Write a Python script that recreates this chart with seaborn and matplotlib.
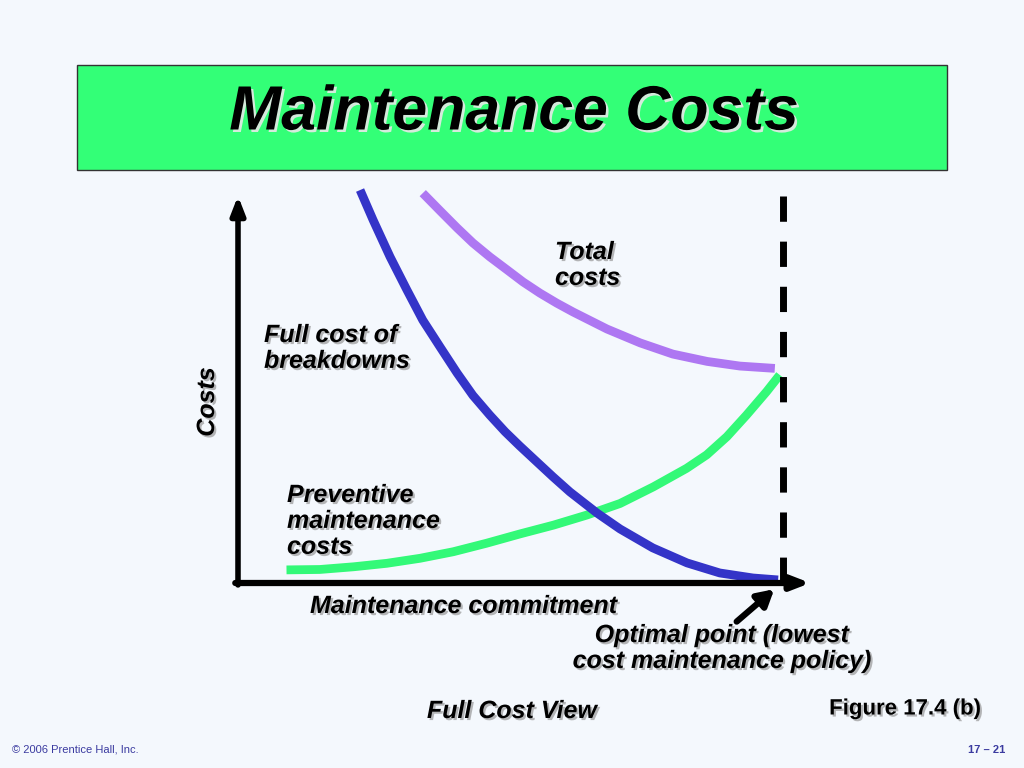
import numpy as np
import pandas as pd
import seaborn as sns
import matplotlib.pyplot as plt
import matplotlib.patches as mpatches
import matplotlib.patheffects as pe

# values (commitment 0..100, cost 0..100)
breakdown_x = [22.4, 24.8, 27.9, 31.0, 33.9, 37.1, 40.2, 43.1, 46.2, 49.0, 51.7,
               54.9, 57.8, 60.9, 65.9, 70.1, 76.1, 82.4, 88.4, 94.5, 99.1]
breakdown_y = [101.8, 94.0, 84.5, 75.9, 68.1, 61.1, 54.4, 48.6, 43.5, 39.2, 35.5,
               31.3, 27.5, 23.6, 18.1, 14.0, 9.1, 5.2, 2.6, 1.3, 0.8]

total_x = [33.9, 37.1, 40.2, 43.1, 46.2, 49.4, 52.3, 55.4, 58.5, 61.5, 67.7,
           73.8, 79.8, 86.1, 92.1, 98.5]
total_y = [101.0, 96.4, 92.0, 88.1, 84.5, 81.1, 78.0, 75.1, 72.5, 70.2, 65.8,
           62.2, 59.3, 57.4, 56.2, 55.6]

preventive_x = [8.9, 15.0, 21.2, 27.3, 33.4, 39.5, 45.6, 51.7, 57.9, 64.0, 70.1,
                76.2, 82.3, 86.0, 89.7, 93.3, 97.0, 99.4]
preventive_y = [3.4, 3.5, 4.2, 5.1, 6.4, 8.1, 10.3, 12.7, 15.0, 17.6, 20.6,
                24.9, 29.7, 33.2, 37.9, 43.5, 49.6, 53.9]

optimal_x = 100
cost_top = 100.3

BG = '#F4F8FD'
FONT = 'Liberation Sans'

sns.set_theme(style='white')
plt.rcParams['font.family'] = [FONT, 'DejaVu Sans']
plt.rcParams['text.color'] = 'black'

fig = plt.figure(figsize=(10.24, 7.68), dpi=100, facecolor=BG)
W, H = 1024, 768


def fx(x, y):
    return x / W, 1 - y / H


shadow = [pe.withSimplePatchShadow(offset=(1.5, -1.5), shadow_rgbFace='#888888', alpha=0.6)]
title_shadow = [pe.withSimplePatchShadow(offset=(1.8, -1.8), shadow_rgbFace='#E8E8E8', alpha=0.9)]

# title box
fig.add_artist(mpatches.Rectangle(fx(77, 170), 870 / W, 105 / H, transform=fig.transFigure,
                                  facecolor='#33FF77', edgecolor='#333333', lw=1))
fig.text(*fx(514, 113), 'Maintenance Costs', ha='center', va='center', fontsize=45,
         fontweight='bold', style='italic', path_effects=title_shadow)

ax = fig.add_axes([238 / W, (768 - 583) / H, 105 * 5.45 / W, 105 * 3.86 / H])
ax.set_facecolor('none')
ax.set_xlim(0, 105)
ax.set_ylim(0, 105)
ax.axis('off')

lw = 6.3
kw = dict(ax=ax, lw=lw, solid_capstyle='butt', solid_joinstyle='round')
sns.lineplot(x=total_x, y=total_y, color='#AE77F2', **kw)
sns.lineplot(x=preventive_x, y=preventive_y, color='#33F978', **kw)
sns.lineplot(x=breakdown_x, y=breakdown_y, color='#3434C8', **kw)
for ln in ax.lines:
    ln.set_clip_on(False)

# axes arrows
ax.annotate('', xy=(0, cost_top), xytext=(0, -0.5),
            arrowprops=dict(arrowstyle='-|>,head_length=0.9,head_width=0.35', color='black', lw=4,
                            shrinkA=0, shrinkB=0))
ax.annotate('', xy=(105, 0), xytext=(-0.5, 0),
            arrowprops=dict(arrowstyle='-|>,head_length=0.9,head_width=0.35', color='black', lw=4.5,
                            shrinkA=0, shrinkB=0))
ax.plot([optimal_x, optimal_x], [cost_top, 0], color='black', lw=5, linestyle=(0, (3.64, 2.86)),
        clip_on=False)

ax.annotate('', xy=(optimal_x - 1.6, -1.6), xytext=(91.5, -10), annotation_clip=False,
            arrowprops=dict(arrowstyle='-|>,head_length=0.8,head_width=0.45', color='black', lw=4.5,
                            shrinkA=0, shrinkB=0))

lab = dict(fontsize=18, fontweight='bold', style='italic', path_effects=shadow, linespacing=1.1)
fig.text(*fx(555, 240), 'Total\ncosts', ha='left', va='top', **lab)
fig.text(*fx(264, 323), 'Full cost of\nbreakdowns', ha='left', va='top', **lab)
fig.text(*fx(287, 483), 'Preventive\nmaintenance\ncosts', ha='left', va='top', **lab)
fig.text(*fx(207, 402), 'Costs', ha='center', va='center', rotation=90, **lab)
fig.text(*fx(310, 606), 'Maintenance commitment', ha='left', va='center', **lab)
fig.text(*fx(722, 648), 'Optimal point (lowest\ncost maintenance policy)', ha='center', va='center', **lab)
fig.text(*fx(512, 711), 'Full Cost View', ha='center', va='center', **lab)
fig.text(*fx(905, 709), 'Figure 17.4 (b)', ha='center', va='center', fontsize=16, fontweight='bold',
         path_effects=shadow)

fig.text(*fx(12, 750), '© 2006 Prentice Hall, Inc.', ha='left', va='center', fontsize=8, color='#3B3BA0')
fig.text(*fx(1005, 750), '17 – 21', ha='right', va='center', fontsize=8, fontweight='bold', color='#3B3BA0')

fig.savefig('out.png', dpi=100, facecolor=BG)
